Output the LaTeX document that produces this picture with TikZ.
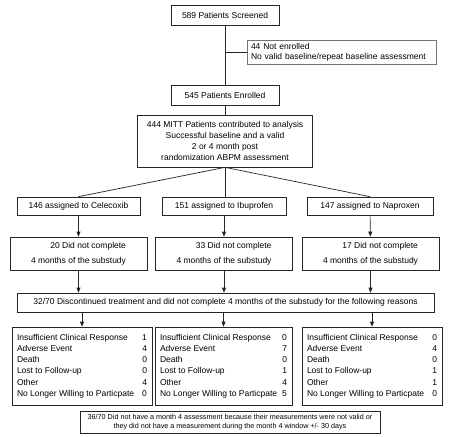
\documentclass[tikz,border=0pt]{standalone}
\usepackage{fontspec}
\setmainfont{Liberation Sans}
\usetikzlibrary{arrows.meta}
\begin{document}
\begin{tikzpicture}[x=1pt,y=-1pt,
  box/.style={draw=black!85, line width=0.7pt, inner sep=2pt, align=center, font=\fontsize{8.5}{10.5}\selectfont},
  ln/.style={draw=black!85, line width=0.7pt},
  arr/.style={ln, -{Triangle[length=5pt,width=4pt]}},
  reason/.style={box, inner xsep=5pt, minimum width=140pt, minimum height=78pt, font=\fontsize{8.5}{11.2}\selectfont},
  dnc/.style={box, align=right, minimum width=137pt, minimum height=33pt, font=\fontsize{8.5}{15}\selectfont}]
\useasboundingbox (0,0) rectangle (452,436);

\node[box, minimum width=108pt, minimum height=20pt] (s1) at (225,15) {589 Patients Screened};
\node[box, draw=black!55, align=left, inner xsep=4pt, text width=181pt, minimum height=24pt, font=\fontsize{8.5}{10}\selectfont] (side) at (341.5,52) {44 Not enrolled\\No valid baseline/repeat baseline assessment};
\node[box, minimum width=108pt, minimum height=20pt] (enr) at (225,95) {545 Patients Enrolled};
\node[box, minimum width=175pt, minimum height=52pt, font=\fontsize{8.5}{10.8}\selectfont] (mitt) at (225,141) {444 MITT Patients contributed to analysis\\Successful baseline and a valid\\2 or 4 month post\\randomization ABPM assessment};

\node[box, minimum width=123pt, minimum height=18pt] (cel) at (78.5,206) {146 assigned to Celecoxib};
\node[box, minimum width=124pt, minimum height=18pt] (ibu) at (224,206) {151 assigned to Ibuprofen};
\node[box, minimum width=126pt, minimum height=18pt] (nap) at (370,206) {147 assigned to Naproxen};

\node[dnc] (d1) at (78.5,253.5) {20 Did not complete\\4 months of the substudy};
\node[dnc] (d2) at (224,253.5) {33 Did not complete\\4 months of the substudy};
\node[dnc] (d3) at (370.5,253.5) {17 Did not complete\\4 months of the substudy};

\node[box, minimum width=417pt, minimum height=19pt] (disc) at (225.5,302.5) {32/70 Discontinued treatment and did not complete 4 months of the substudy for the following reasons};

\node[reason] (r1) at (82,366) {\begin{tabular*}{130pt}{@{}l@{\extracolsep{\fill}}r@{}}Insufficient Clinical Response & 1\\Adverse Event & 4\\Death & 0\\Lost to Follow-up & 0\\Other & 4\\No Longer Willing to Particpate & 0\end{tabular*}};
\node[reason, minimum width=137pt] (r2) at (223.5,366) {\begin{tabular*}{127pt}{@{}l@{\extracolsep{\fill}}r@{}}Insufficient Clinical Response & 0\\Adverse Event & 7\\Death & 0\\Lost to Follow-up & 1\\Other & 4\\No Longer Willing to Particpate & 5\end{tabular*}};
\node[reason] (r3) at (372,366) {\begin{tabular*}{130pt}{@{}l@{\extracolsep{\fill}}r@{}}Insufficient Clinical Response & 0\\Adverse Event & 4\\Death & 0\\Lost to Follow-up & 1\\Other & 1\\No Longer Willing to Particpate & 0\end{tabular*}};

\node[box, minimum width=300pt, minimum height=22pt, font=\fontsize{7.2}{9.3}\selectfont] (note) at (230,422) {36/70 Did not have a month 4 assessment because their measurements were not valid or\\they did not have a measurement during the month 4 window +/- 30 days};

\draw[ln] (s1) -- (enr);
\draw[ln] (s1.south |- side.west) -- (side.west);
\draw[ln] (enr) -- (mitt);
\draw[ln] (mitt.south) -- (cel.north);
\draw[ln] (mitt.south) -- (mitt.south |- ibu.north);
\draw[ln] (mitt.south) -- (nap.north);

\draw[arr] (cel) -- (d1);
\draw[arr] (ibu) -- (d2);
\draw[arr] (nap) -- (d3);

\draw[arr] (d1.south) -- (d1.south |- disc.north);
\draw[arr] (d2.south) -- (d2.south |- disc.north);
\draw[arr] (d3.south) -- (d3.south |- disc.north);

\draw[arr] (r1.north |- disc.south) -- (r1.north);
\draw[arr] (r2.north |- disc.south) -- (r2.north);
\draw[arr] (r3.north |- disc.south) -- (r3.north);
\end{tikzpicture}
\end{document}
